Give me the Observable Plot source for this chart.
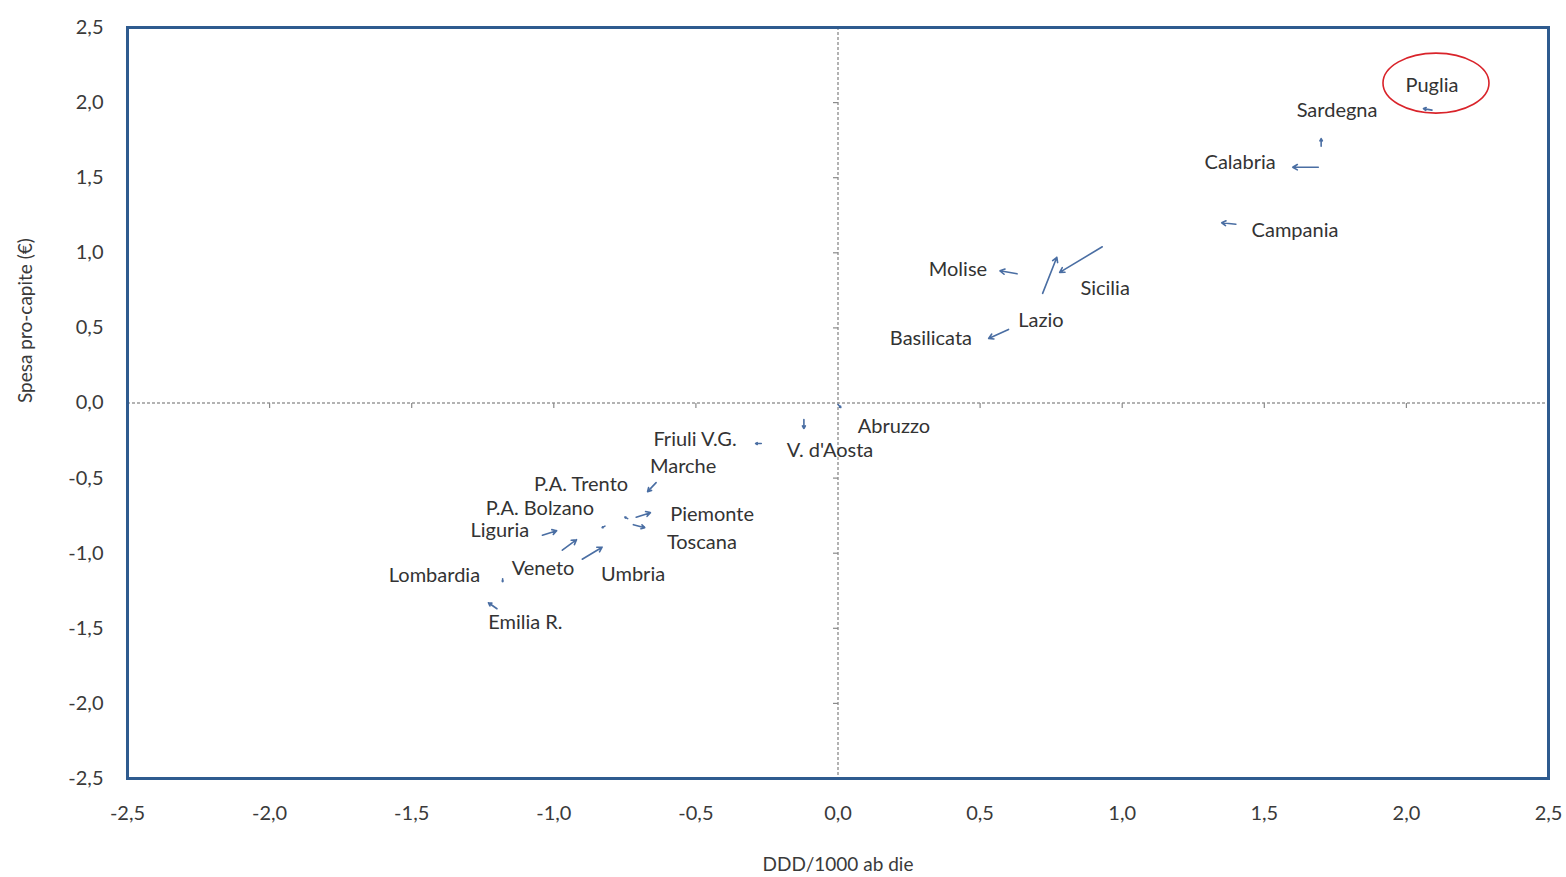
<!DOCTYPE html>
<html>
<head>
<meta charset="utf-8">
<script src="https://cdn.jsdelivr.net/npm/d3@7"></script>
<script src="https://cdn.jsdelivr.net/npm/@observablehq/plot@0.6"></script>
<style>
  html, body { margin: 0; padding: 0; background: #fff; }
  #chart svg { display: block; }
</style>
</head>
<body>
<div id="chart"></div>
<script>
// ---- data ----
const regions = ["Puglia","Sardegna","Calabria","Campania","Molise","Sicilia","Lazio","Basilicata","Abruzzo","V. d'Aosta","Friuli V.G.","Marche","P.A. Trento","P.A. Bolzano","Piemonte","Toscana","Liguria","Veneto","Umbria","Lombardia","Emilia R."];
const xStart = [2.09, 1.70, 1.69, 1.40, 0.63, 0.93, 0.72, 0.60, -0.12, 0.00, -0.27, -0.64, -0.74, -0.82, -0.71, -0.72, -1.04, -0.97, -0.90, -1.18, -1.20];
const yStart = [1.95, 1.71, 1.57, 1.19, 0.86, 1.04, 0.73, 0.49, -0.11, -0.01, -0.27, -0.53, -0.77, -0.82, -0.76, -0.81, -0.88, -0.98, -1.04, -1.17, -1.37];
const xEnd   = [2.06, 1.70, 1.60, 1.35, 0.57, 0.78, 0.77, 0.53, -0.12, 0.01, -0.29, -0.67, -0.75, -0.83, -0.66, -0.68, -0.99, -0.92, -0.83, -1.18, -1.23];
const yEnd   = [1.96, 1.76, 1.57, 1.20, 0.88, 0.87, 0.97, 0.43, -0.17, -0.03, -0.27, -0.59, -0.76, -0.83, -0.73, -0.83, -0.85, -0.91, -0.96, -1.19, -1.33];
// label anchor (data units)
const labelX = [2.09, 1.756, 1.415, 1.608, 0.422, 0.94, 0.714, 0.327, 0.197, -0.028, -0.503, -0.545, -0.904, -1.049, -0.443, -0.479, -1.19, -1.038, -0.721, -1.42, -1.10];
const labelY = [2.11, 1.95, 1.60, 1.15, 0.89, 0.76, 0.55, 0.43, -0.16, -0.32, -0.246, -0.426, -0.54, -0.705, -0.746, -0.932, -0.85, -1.10, -1.145, -1.15, -1.465];
const tickValues = [-2.5, -2.0, -1.5, -1.0, -0.5, 0.0, 0.5, 1.0, 1.5, 2.0, 2.5];
const highlighted = "Puglia";
const xTitle = "DDD/1000 ab die";
const yTitle = "Spesa pro-capite (€)";

const rows = regions.map((r, i) => ({region: r, x1: xStart[i], y1: yStart[i], x2: xEnd[i], y2: yEnd[i], lx: labelX[i], ly: labelY[i]}));
const fmt = d => d.toFixed(1).replace(".", ",");

// custom symbols
const tickLeft = {draw(ctx, size) { ctx.moveTo(-5, 0); ctx.lineTo(0, 0); }};
const tickDown = {draw(ctx, size) { ctx.moveTo(0, 0); ctx.lineTo(0, 5); }};
const ellipse = {draw(ctx, size) {
  const rx = 53, ry = 30, k = 0.5523;
  ctx.moveTo(rx, 0);
  ctx.bezierCurveTo(rx, ry * k, rx * k, ry, 0, ry);
  ctx.bezierCurveTo(-rx * k, ry, -rx, ry * k, -rx, 0);
  ctx.bezierCurveTo(-rx, -ry * k, -rx * k, -ry, 0, -ry);
  ctx.bezierCurveTo(rx * k, -ry, rx, -ry * k, rx, 0);
  ctx.closePath();
}};

const font = "Lato, 'Open Sans', sans-serif";
const textColor = "#333333";

const plot = Plot.plot({
  width: 1566,
  height: 877,
  marginLeft: 127,
  marginRight: 18,
  marginTop: 27,
  marginBottom: 99,
  style: {fontFamily: font, fontSize: "20px", color: "#3a3a3a", background: "#fff"},
  x: {domain: [-2.5, 2.5], label: null},
  y: {domain: [-2.5, 2.5], label: null},
  marks: [
    Plot.axisX({ticks: tickValues, tickFormat: fmt, tickSize: 0, tickPadding: 27, fontSize: 20, label: null}),
    Plot.axisY({ticks: tickValues, tickFormat: fmt, tickSize: 0, tickPadding: 24, fontSize: 20, label: null}),
    // dotted zero lines
    Plot.ruleY([0], {stroke: "#9a9a9a", strokeWidth: 1.5, strokeDasharray: "3,2"}),
    Plot.ruleX([0], {stroke: "#9a9a9a", strokeWidth: 1.5, strokeDasharray: "3,2"}),
    // minor ticks on zero lines
    Plot.dot(tickValues.filter(v => Math.abs(v) < 2.5 && v !== 0), {x: 0, y: d => d, symbol: tickLeft, stroke: "#8a8a8a", strokeWidth: 1.2, r: 3}),
    Plot.dot(tickValues.filter(v => Math.abs(v) < 2.5 && v !== 0), {x: d => d, y: 0, symbol: tickDown, stroke: "#8a8a8a", strokeWidth: 1.2, r: 3}),
    // arrows
    Plot.arrow(rows, {x1: "x1", y1: "y1", x2: "x2", y2: "y2", stroke: "#4a6ea3", strokeWidth: 1.6, headLength: 5, bend: false}),
    // labels
    Plot.text(rows, {x: "lx", y: "ly", text: "region", fill: textColor, fontSize: 20, fontFamily: font}),
    // highlight ellipse
    Plot.dot(rows.filter(d => d.region === highlighted), {x: "lx", y: "ly", dy: -3, dx: 4, symbol: ellipse, stroke: "#d9232a", strokeWidth: 1.6, fill: "none", r: 3}),
    // axis titles
    Plot.text([xTitle], {frameAnchor: "bottom", dy: 92, fill: "#3a3a3a", fontSize: 19, fontFamily: font}),
    Plot.text([yTitle], {frameAnchor: "left", dx: -102, rotate: -90, fill: "#3a3a3a", fontSize: 19, fontFamily: font}),
    // frame
    Plot.frame({stroke: "#2f5b8f", strokeWidth: 3})
  ]
});
document.getElementById("chart").appendChild(plot);
</script>
</body>
</html>
